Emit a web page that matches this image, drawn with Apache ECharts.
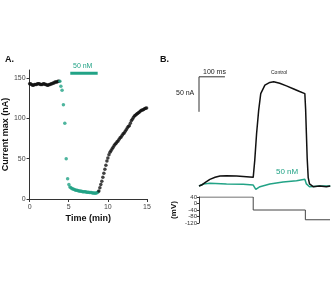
<!DOCTYPE html>
<html>
<head>
<meta charset="utf-8">
<script src="https://cdn.jsdelivr.net/npm/echarts@6/dist/echarts.min.js"></script>
<style>
  html, body { margin: 0; padding: 0; background: #fff; }
  #chart { width: 332px; height: 284px; }
</style>
</head>
<body>
<div id="chart"></div>
<script>
// Panel A: current max (nA) against time (min)
const baselineTime = [0, 0.125, 0.25, 0.375, 0.5, 0.625, 0.75, 0.875, 1, 1.125, 1.25, 1.375, 1.5, 1.625, 1.75, 1.875,
    2, 2.125, 2.25, 2.375, 2.5, 2.625, 2.75, 2.875, 3, 3.125, 3.25, 3.375, 3.5, 3.625, 3.75];
const baselineCurrent = [143, 143, 142, 141, 141, 142, 142, 142, 143, 143, 143, 142, 142, 142, 143, 143,
    142, 142, 141, 141, 142, 142, 143, 143, 144, 144, 145, 145, 145, 146, 146];

const drugTime = [3.87, 4.0, 4.15, 4.32, 4.5, 4.68, 4.86, 5.02, 5.15, 5.28, 5.4, 5.52, 5.65, 5.78, 5.9, 6.03,
    6.15, 6.28, 6.4, 6.53, 6.65, 6.78, 6.9, 7.03, 7.15, 7.28, 7.4, 7.53, 7.65, 7.78, 7.9, 8.03, 8.15, 8.28,
    8.4, 8.53, 8.65, 8.78];
const drugCurrent = [146, 140, 135, 117, 94, 50, 25, 18, 15, 14, 13, 12.5, 12, 11.5, 11, 11,
    10.5, 10, 10, 9.5, 9.5, 9, 9, 9, 9, 8.5, 8.5, 8.5, 8, 8, 8, 7.5, 7.5, 7.5,
    7, 7.5, 8, 9];

const washTime = [8.85, 8.98, 9.1, 9.23, 9.36, 9.49, 9.62, 9.75, 9.88, 10.0, 10.14, 10.27, 10.4, 10.53, 10.66,
    10.79, 10.92, 11.05, 11.18, 11.31, 11.44, 11.57, 11.7, 11.83, 11.96, 12.09, 12.22, 12.35, 12.48, 12.61,
    12.74, 12.87, 13.0, 13.13, 13.26, 13.39, 13.52, 13.65, 13.78, 13.91, 14.04, 14.17, 14.3, 14.43, 14.56,
    14.69, 14.82, 14.95];
const washCurrent = [10, 14, 18, 22, 27, 32, 37, 42, 47, 51, 55, 58, 60, 62, 64,
    66, 68, 69, 71, 72, 74, 76, 77, 79, 81, 82, 84, 86, 88, 90,
    91, 94, 97, 99, 101, 103, 104, 105, 106, 107, 108, 109, 110, 110.5, 111,
    112, 112.5, 113];

// application bar of the 50 nM drug (min, drawn at 156 nA)
const drugBarTime = [5.2, 8.7];
const drugBarLevel = 156;

// Panel B: current traces (ms, nA)
const controlTime = [0, 10, 23, 42, 62, 81, 106, 145, 183, 209, 215, 222, 230, 238, 254, 273, 288, 311,
    337, 363, 388, 408, 411, 414, 417, 421, 426, 440, 465, 491, 506];
const controlCurrent = [0, 1.4, 4.8, 9.5, 12.4, 14.3, 14.8, 14.3, 13.3, 12.4, 37, 75, 108, 132, 144, 148, 149, 146.7,
    143, 139, 135, 132, 110, 75, 40, 12, 3, -1, 0, -1, 0];

const drugTraceTime = [0, 17, 42, 106, 170, 209, 219, 235, 273, 324, 376, 408, 414, 426, 465, 506];
const drugTraceCurrent = [0, 2.9, 3.8, 2.9, 2.4, 1.4, -4.8, -1, 2.9, 5.7, 7.6, 9.5, 3, -1, 0, 0];

// scale bars: 100 ms and 50 nA
const scaleBarMs = [0, 100];
const scaleBarNa = [106, 156];

// voltage protocol (ms, mV)
const protocolTime = [0, 209, 209, 410, 410, 505];
const protocolVoltage = [40, 40, -40, -40, -100, -100];

const teal = '#22a386';
const ink = '#111';
const font = 'Liberation Sans';

function pairs(xs, ys) {
    return xs.map((x, i) => [x, ys[i]]);
}

const chart = echarts.init(document.getElementById('chart'));

const axisStyle = {
    axisLine: { lineStyle: { color: '#333', width: 1 } },
    axisTick: { length: 3, lineStyle: { color: '#333' } },
    axisLabel: { color: '#444', fontSize: 7, fontFamily: font, margin: 5 },
    splitLine: { show: false }
};

const option = {
    animation: false,
    grid: [
        { left: 26, top: 70, width: 121, height: 129 },
        { left: 199, top: 74, width: 131, height: 119 },
        { left: 199, top: 197, width: 131, height: 26 }
    ],
    xAxis: [
        Object.assign({
            gridIndex: 0, type: 'value', min: 0, max: 15, interval: 5,
            name: 'Time (min)', nameLocation: 'middle', nameGap: 15,
            nameTextStyle: { fontSize: 9, fontWeight: 'bold', color: '#111', fontFamily: font }
        }, axisStyle),
        { gridIndex: 1, type: 'value', min: 0, max: 505, show: false },
        { gridIndex: 2, type: 'value', min: 0, max: 505, show: false }
    ],
    yAxis: [
        Object.assign({
            gridIndex: 0, type: 'value', min: 0, max: 160, interval: 50,
            name: 'Current max (nA)', nameLocation: 'middle', nameGap: 18,
            nameTextStyle: { fontSize: 9, fontWeight: 'bold', color: '#111', fontFamily: font }
        }, axisStyle, {
            axisLabel: { color: '#444', fontSize: 7, fontFamily: font, margin: 4, showMaxLabel: false }
        }),
        { gridIndex: 1, type: 'value', min: -10, max: 160, show: false },
        Object.assign({
            gridIndex: 2, type: 'value', min: -120, max: 40, interval: 40,
            name: '(mV)', nameLocation: 'middle', nameGap: 21,
            nameTextStyle: { fontSize: 8, fontWeight: 'bold', color: '#111', fontFamily: font }
        }, axisStyle, {
            axisLabel: { color: '#333', fontSize: 6, fontFamily: font, margin: 2 },
            axisTick: { length: 2, lineStyle: { color: '#333' } }
        })
    ],
    series: [
        {
            type: 'scatter', xAxisIndex: 0, yAxisIndex: 0, symbolSize: 3.5,
            itemStyle: { color: ink }, data: pairs(baselineTime, baselineCurrent)
        },
        {
            type: 'scatter', xAxisIndex: 0, yAxisIndex: 0, symbolSize: 3.5,
            itemStyle: { color: teal }, data: pairs(drugTime, drugCurrent)
        },
        {
            type: 'scatter', xAxisIndex: 0, yAxisIndex: 0, symbolSize: 3.5,
            itemStyle: { color: ink }, data: pairs(washTime, washCurrent)
        },
        {
            type: 'line', xAxisIndex: 0, yAxisIndex: 0, symbol: 'none',
            lineStyle: { color: teal, width: 3 },
            data: drugBarTime.map(t => [t, drugBarLevel])
        },
        {
            type: 'line', xAxisIndex: 1, yAxisIndex: 1, symbol: 'none',
            lineStyle: { color: teal, width: 1.5 },
            data: pairs(drugTraceTime, drugTraceCurrent)
        },
        {
            type: 'line', xAxisIndex: 1, yAxisIndex: 1, symbol: 'none',
            lineStyle: { color: ink, width: 1.5 },
            data: pairs(controlTime, controlCurrent)
        },
        {
            type: 'line', xAxisIndex: 1, yAxisIndex: 1, symbol: 'none',
            lineStyle: { color: '#333', width: 1 },
            data: [[scaleBarMs[1], scaleBarNa[1]], [scaleBarMs[0], scaleBarNa[1]], [scaleBarMs[0], scaleBarNa[0]]]
        },
        {
            type: 'line', xAxisIndex: 2, yAxisIndex: 2, symbol: 'none',
            lineStyle: { color: '#444', width: 1 },
            data: pairs(protocolTime, protocolVoltage)
        }
    ],
    graphic: [
        { type: 'text', left: 5, top: 55, style: { text: 'A.', font: 'bold 9px ' + font, fill: '#111' } },
        { type: 'text', left: 160, top: 55, style: { text: 'B.', font: 'bold 9px ' + font, fill: '#111' } },
        { type: 'text', left: 73, top: 63, style: { text: '50 nM', font: '7px ' + font, fill: teal } },
        { type: 'text', left: 203, top: 69, style: { text: '100 ms', font: '7px ' + font, fill: '#222' } },
        { type: 'text', left: 176, top: 90, style: { text: '50 nA', font: '7px ' + font, fill: '#222' } },
        { type: 'text', left: 271, top: 70, style: { text: 'Control', font: '5px ' + font, fill: '#222' } },
        { type: 'text', left: 276, top: 168, style: { text: '50 nM', font: '8px ' + font, fill: teal } }
    ]
};

chart.setOption(option);
</script>
</body>
</html>
